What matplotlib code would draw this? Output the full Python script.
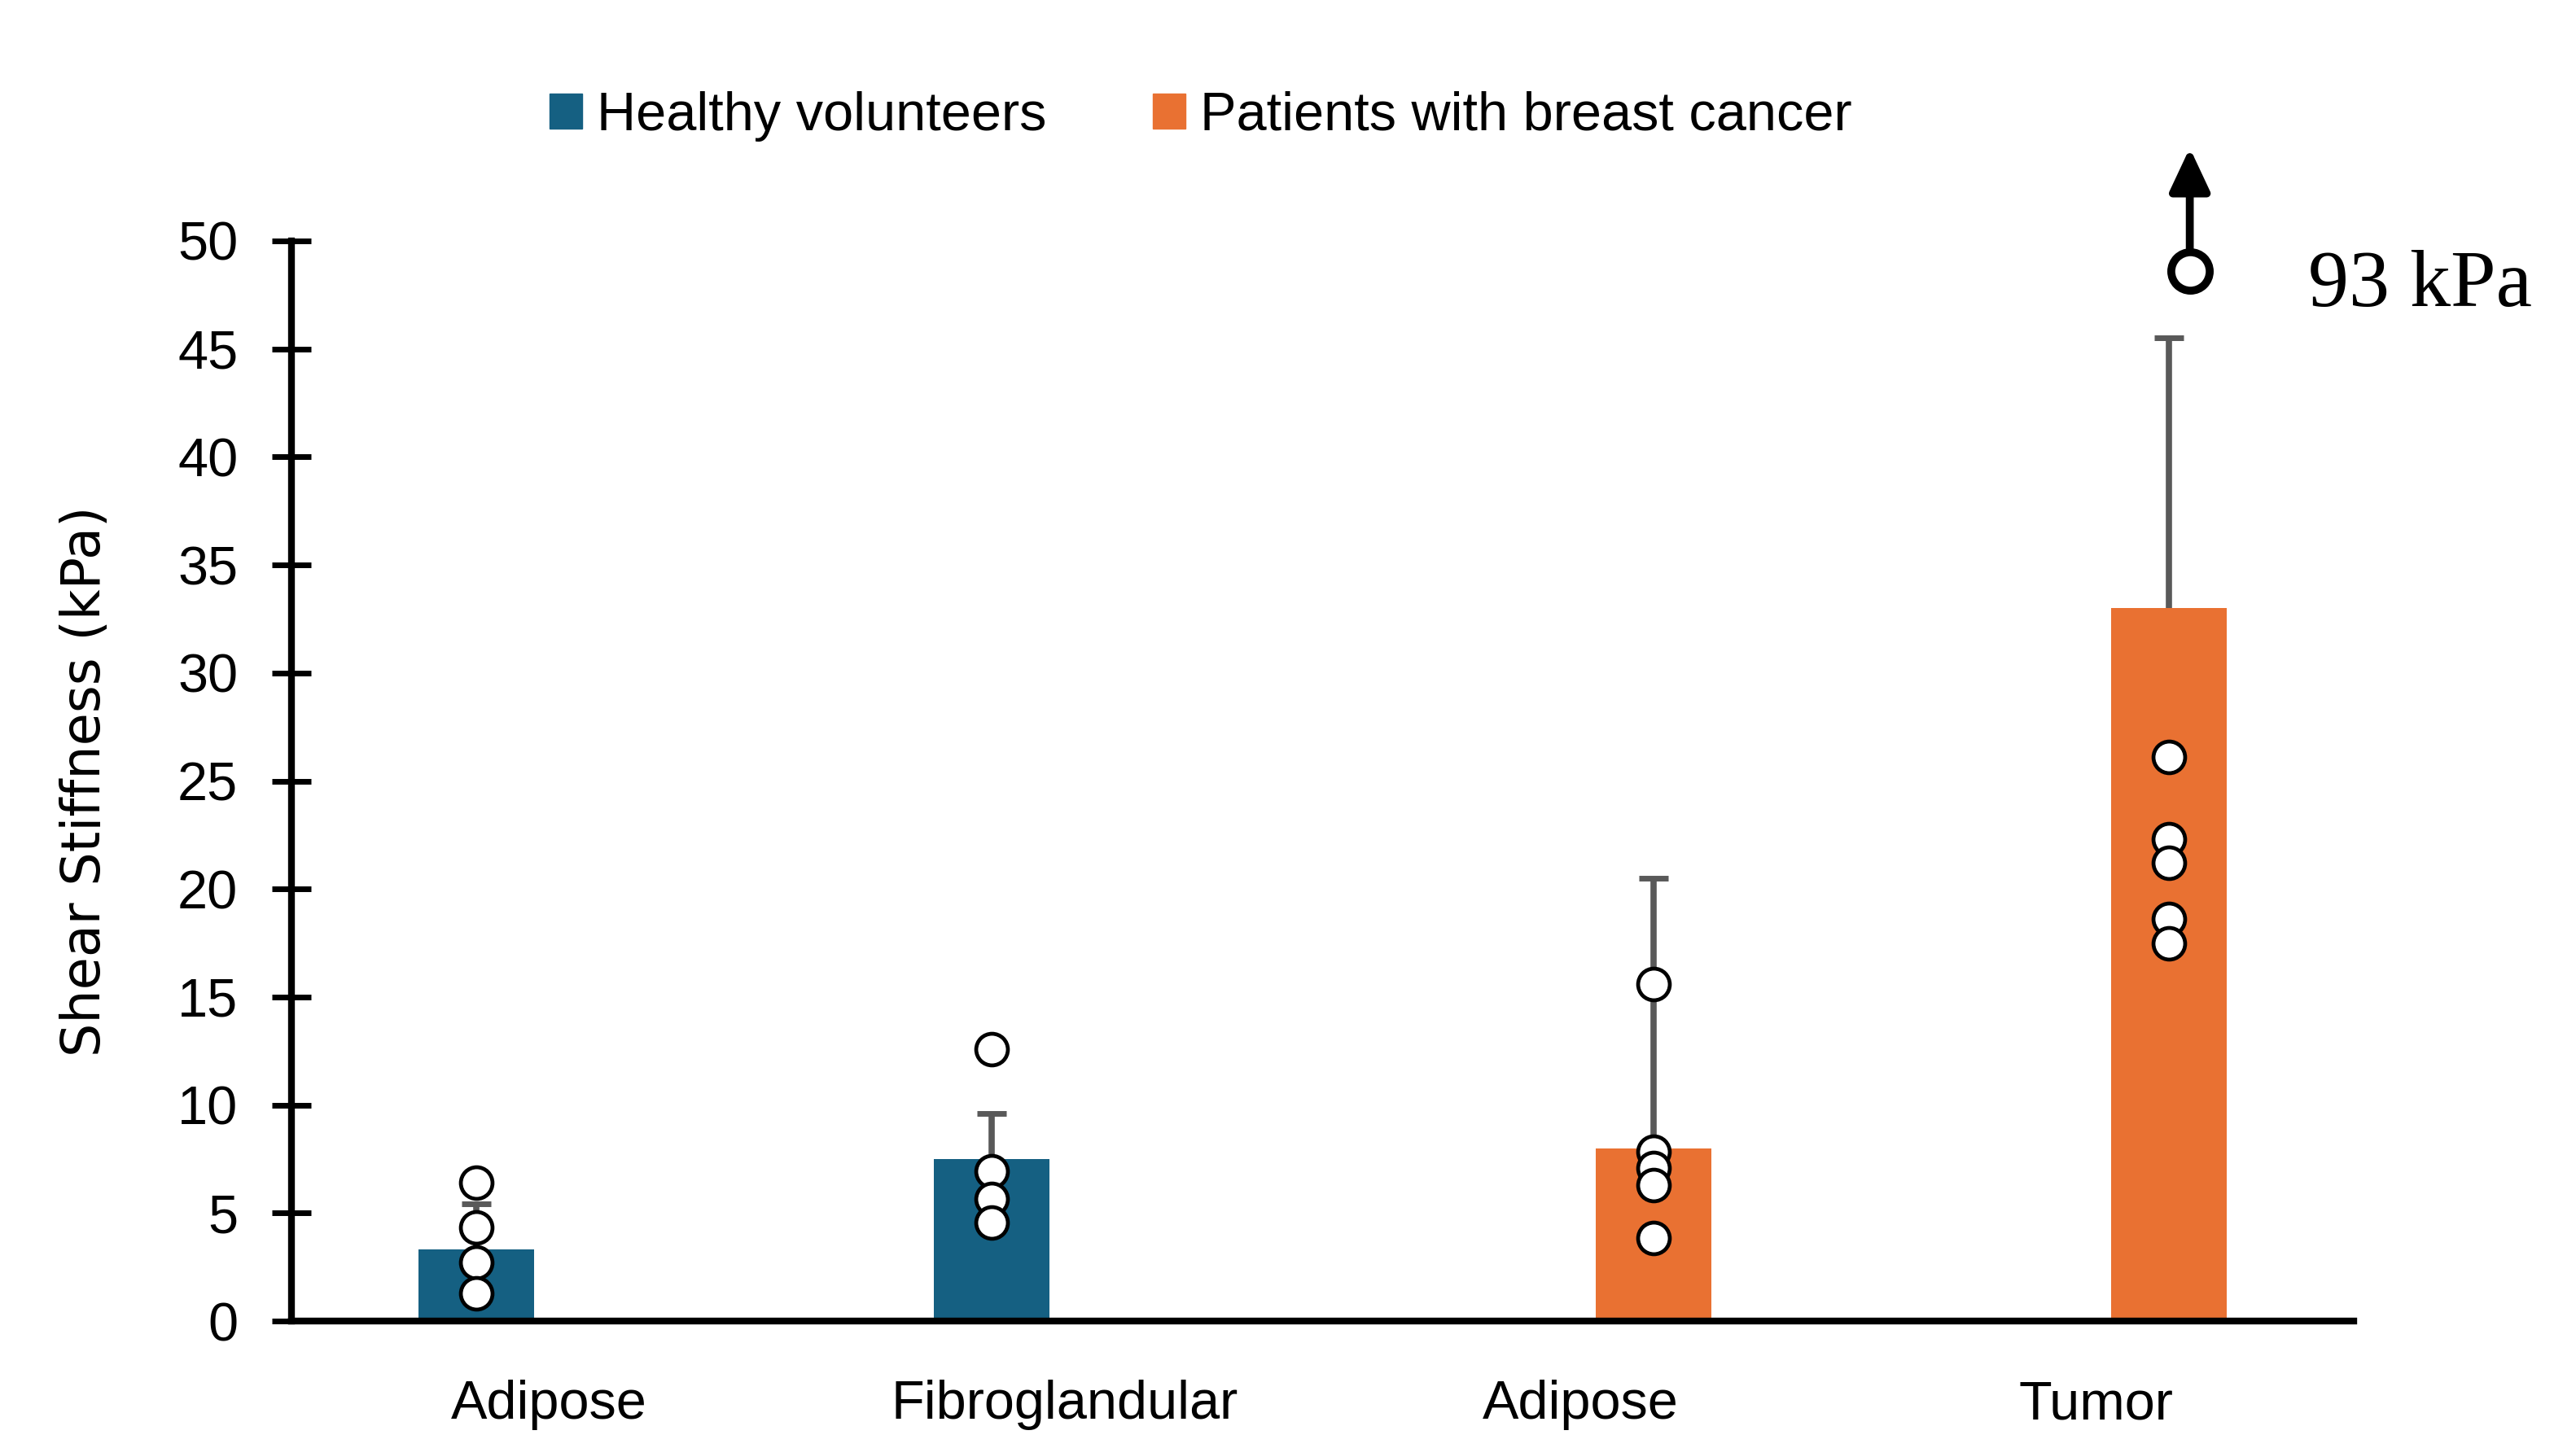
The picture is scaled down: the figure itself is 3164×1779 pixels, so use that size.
import numpy as np
import matplotlib
matplotlib.use("Agg")
import matplotlib.pyplot as plt
from matplotlib.patches import Patch

# ---------------- data ----------------
categories = ["Adipose", "Fibroglandular", "Adipose", "Tumor"]
series_names = ["Healthy volunteers", "Patients with breast cancer"]

healthy_idx = [0, 1]
healthy_mean = [3.3, 7.5]
healthy_sd = [2.13, 2.12]
healthy_points = [[6.4, 4.35, 2.7, 1.27], [12.6, 6.95, 5.65, 4.57]]

patient_idx = [2, 3]
patient_mean = [7.97, 33.0]
patient_sd = [12.52, 12.5]
patient_points = [[15.6, 7.85, 7.1, 6.3, 3.86], [26.1, 22.3, 21.2, 18.6, 17.5]]

outlier_label = "93 kPa"
outlier_shown_at = 48.6   # off-scale point drawn at the top of the axis

yticks = list(range(0, 55, 5))
ylabel = "Shear Stiffness (kPa)"

# ---------------- style ----------------
BLUE = "#156082"
ORANGE = "#E97132"
ERR = "#595959"
plt.rcParams["font.family"] = ["Liberation Sans", "DejaVu Sans"]

W, H, DPI = 3164, 1779, 100
fig = plt.figure(figsize=(W / DPI, H / DPI), dpi=DPI)
ax = fig.add_axes([358 / W, 1 - 1623 / H, (2891 - 358) / W, (1623 - 296) / H])

off = 0.142
bw = 0.224

hx = np.array(healthy_idx) - off
px = np.array(patient_idx) + off

ax.bar(hx, healthy_mean, width=bw, color=BLUE, zorder=2, label=series_names[0])
ax.bar(px, patient_mean, width=bw, color=ORANGE, zorder=2, label=series_names[1])

# upper-only error bars (line from bar top, cap at mean + SD)
for xs, m, sd in ((hx, healthy_mean, healthy_sd), (px, patient_mean, patient_sd)):
    ax.errorbar(xs, m, yerr=[np.zeros(len(sd)), sd], fmt="none", ecolor=ERR,
                elinewidth=5.5, capsize=0, zorder=3)
    ax.plot(xs, np.add(m, sd), ls="none", marker="_", ms=26, mew=5,
            color=ERR, zorder=3)

for xs, groups in ((hx, healthy_points), (px, patient_points)):
    for x, pts in zip(xs, groups):
        ax.scatter(np.full(len(pts), x), pts, s=28 ** 2, facecolor="white",
                   edgecolor="black", linewidths=3.4, zorder=4, clip_on=False)

# off-scale tumour value
x_out = px[-1] + 0.04
ax.plot([x_out], [outlier_shown_at], "o", ms=34, mfc="white", mec="black",
        mew=7, clip_on=False, zorder=5)
ax.annotate("", xy=(x_out, outlier_shown_at), xytext=(0, 109),
            textcoords="offset points",
            arrowprops=dict(arrowstyle="<|-,head_length=32,head_width=15",
                            mutation_scale=1, lw=7, color="black",
                            shrinkA=0, shrinkB=20),
            annotation_clip=False)
ax.annotate(outlier_label, xy=(x_out, outlier_shown_at), xytext=(105, -31),
            textcoords="offset points", ha="left", va="baseline",
            fontsize=72, family="Liberation Serif", annotation_clip=False)

# ---------------- axes ----------------
ax.set_xlim(-0.5, len(categories) - 0.5)
ax.set_ylim(0, 50)
ax.set_xticks(range(len(categories)))
ax.set_xticklabels(categories)
ax.set_yticks(yticks)
ax.set_yticklabels([str(t) for t in yticks])

for s in ("top", "right"):
    ax.spines[s].set_visible(False)
for s in ("left", "bottom"):
    ax.spines[s].set_linewidth(6)
    ax.spines[s].set_color("black")

ax.tick_params(axis="x", length=0, pad=52, labelsize=48)
ax.tick_params(axis="y", direction="inout", length=34.6, width=5, pad=30,
               labelsize=48, color="black")

ax.set_ylabel(ylabel, fontsize=47, family="DejaVu Sans")
ax.yaxis.set_label_coords(-0.0872, 0.5)

handles = [Patch(color=BLUE, label=series_names[0]),
           Patch(color=ORANGE, label=series_names[1])]
fig.legend(handles=handles, loc="center left", bbox_to_anchor=(675 / W, 1 - 143 / H),
           ncol=2, frameon=False, fontsize=48, handlelength=0.6, handleheight=0.6,
           handletextpad=0.27, columnspacing=1.96, borderpad=0, borderaxespad=0)

fig.savefig("out.png", dpi=DPI)
